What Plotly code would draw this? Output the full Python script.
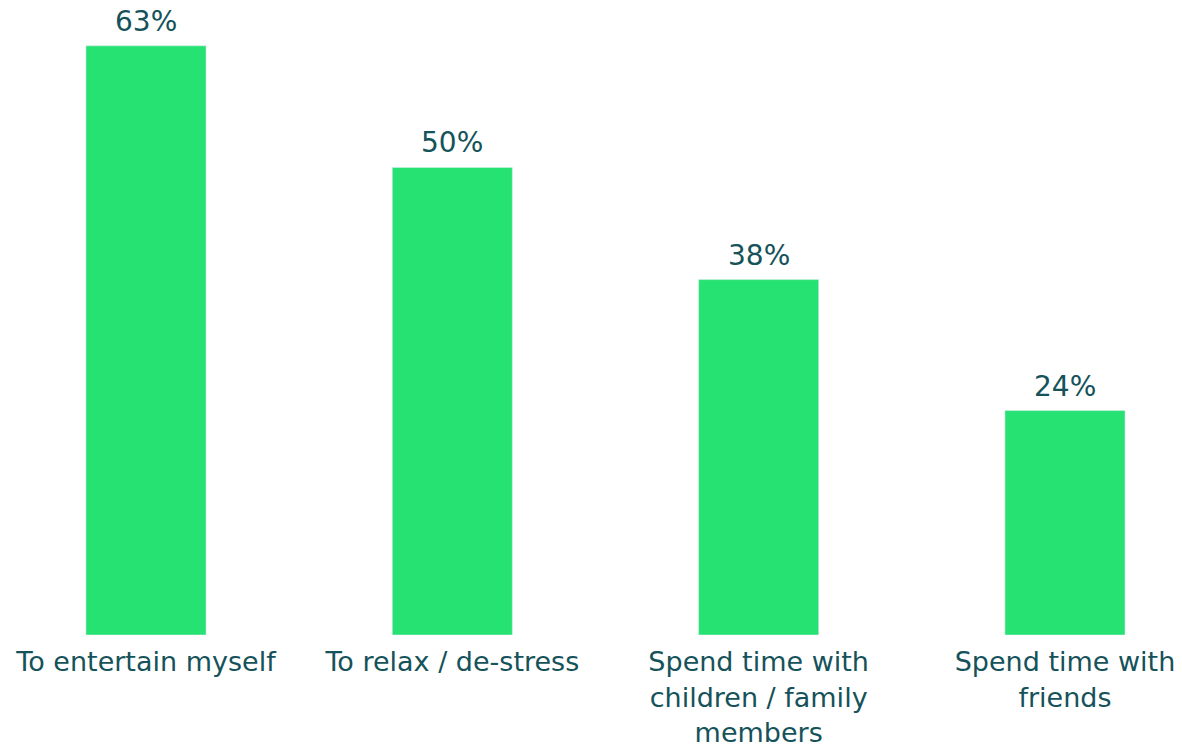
import plotly.graph_objects as go

categories = ["To entertain myself", "To relax / de-stress",
              "Spend time with<br>children / family<br>members",
              "Spend time with<br>friends"]
values = [63, 50, 38, 24]
labels = ["63%", "50%", "38%", "24%"]

BAR = "#26E272"
TXT = "#15525A"
FONT = "DejaVu Sans"

fig = go.Figure()
fig.add_trace(go.Bar(x=categories, y=values, marker_color=BAR, width=0.392,
                     hoverinfo="skip"))
for c, v, l in zip(categories, values, labels):
    fig.add_annotation(x=c, y=v, text=l, showarrow=False, yanchor="bottom",
                       yshift=6, font=dict(family=FONT, size=28, color=TXT))

fig.update_layout(
    width=1182, height=748,
    margin=dict(l=0, r=0, t=0, b=113),
    plot_bgcolor="white", paper_bgcolor="white",
    showlegend=False,
    xaxis=dict(range=[-0.4766, 3.382], showgrid=False, showline=False, zeroline=False,
               automargin=False,
               tickfont=dict(family=FONT, size=27, color=TXT), ticks="outside",
               ticklen=3, tickcolor="rgba(0,0,0,0)"),
    yaxis=dict(range=[0, 67.9], visible=False, automargin=False),
)
fig.write_html("out.html",
               config={"displayModeBar": False},
               post_script="document.body.style.margin='0';document.body.style.overflow='hidden';")
